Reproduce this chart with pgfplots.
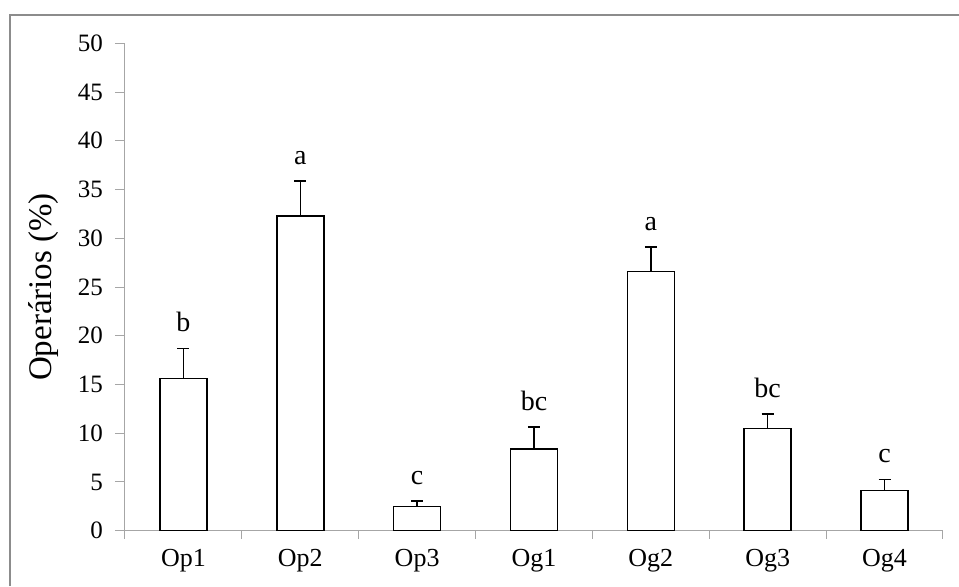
\documentclass[border=0pt]{standalone}
\usepackage{fontspec}
\setmainfont{Liberation Serif}
\usepackage{pgfplots}
\usepackage{pgfplotstable}
\pgfplotsset{compat=1.18}
\definecolor{framegray}{HTML}{8C8C8C}
\definecolor{axisgray}{HTML}{A6A6A6}

% mean, standard error and grouping letter per treatment
\pgfplotstableread{
x lab y err sig
0 Op1 15.6 3.1 b
1 Op2 32.3 3.6 a
2 Op3 2.5 0.55 c
3 Og1 8.4 2.25 bc
4 Og2 26.6 2.5 a
5 Og3 10.5 1.45 bc
6 Og4 4.1 1.15 c
}\operarios

\begin{document}
\begin{tikzpicture}
\path[use as bounding box] (0,0) rectangle (479.5pt,293pt);
\draw[framegray, line width=1pt] (5pt,0) -- (5pt,285.5pt) -- (479.5pt,285.5pt);
\begin{axis}[
  at={(62.5pt,27.65pt)}, anchor=south west,
  scale only axis, width=409pt, height=243.7pt,
  xmin=-0.5, xmax=6.5, ymin=0, ymax=50,
  axis lines*=left,
  axis line style={axisgray, line width=0.5pt},
  ytick={0,5,...,50},
  xtick={0,...,6},
  xticklabels={Op1,Op2,Op3,Og1,Og2,Og3,Og4},
  minor xtick={-0.5,0.5,...,6.5},
  tick align=outside,
  major tick length=5pt,
  minor tick length=4pt,
  major x tick style={draw=none},
  minor x tick style={axisgray, line width=0.5pt},
  ytick style={axisgray, line width=0.5pt},
  /pgf/number format/assume math mode=true,
  yticklabel style={font=\fontsize{12.5}{15}\selectfont, xshift=-2.5pt},
  xticklabel style={font=\fontsize{13}{15}\selectfont, yshift=-1pt},
  ylabel={Operários (\%)},
  every axis y label/.style={at={(axis description cs:-0.0996,0.5)}, rotate=90, anchor=center, font=\fontsize{16.5}{19}\selectfont},
  clip=false,
]
\addplot[ybar, bar width=23.5pt, fill=white, draw=black, line width=0.75pt,
  error bars/.cd, y dir=plus, y explicit,
  error bar style={line width=0.75pt, black},
  error mark options={rotate=90, mark size=3pt, line width=0.75pt, black}]
  table[x=x, y=y, y error=err] {\operarios};
\addplot[draw=none, mark=none, nodes near coords, point meta=explicit symbolic,
  nodes near coords style={font=\fontsize{14}{16}\selectfont, inner sep=0pt, anchor=south, yshift=8pt}]
  table[x=x, y expr=\thisrow{y}+\thisrow{err}, meta=sig] {\operarios};
\end{axis}
\end{tikzpicture}
\end{document}
